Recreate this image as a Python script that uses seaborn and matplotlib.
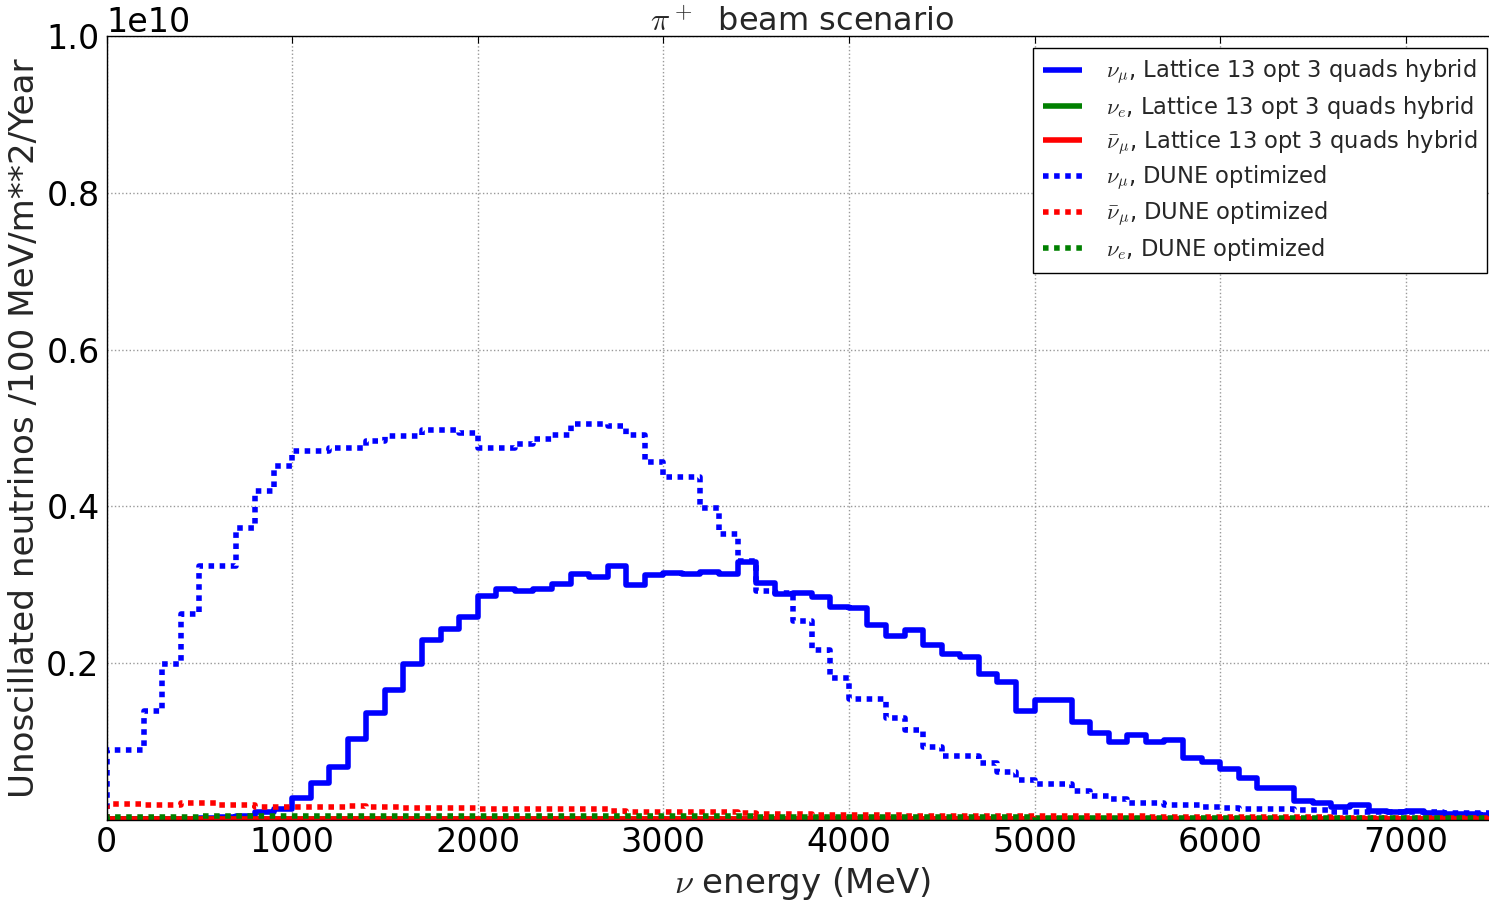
import numpy as np
import pandas as pd
import matplotlib
matplotlib.use("Agg")
import matplotlib.pyplot as plt
import seaborn as sns

# ---------------- data (units of 1e10 per 100 MeV bin) ----------------
SCALE = 1e10
bin_edges = np.arange(0, 7600, 100)  # 0 .. 7500 MeV, 75 bins of 100 MeV

lattice_numu = [
    0.0005, 0.0005, 0.0005, 0.0008, 0.001, 0.0015, 0.003, 0.005, 0.009, 0.014,
    0.028, 0.046, 0.067, 0.103, 0.136, 0.166, 0.198, 0.229, 0.243, 0.259,
    0.285, 0.294, 0.292, 0.294, 0.301, 0.314, 0.310, 0.324, 0.299, 0.312,
    0.315, 0.314, 0.316, 0.313, 0.329, 0.302, 0.288, 0.289, 0.284, 0.272,
    0.270, 0.248, 0.234, 0.242, 0.223, 0.212, 0.207, 0.186, 0.176, 0.139,
    0.153, 0.152, 0.125, 0.111, 0.099, 0.108, 0.099, 0.102, 0.078, 0.073,
    0.065, 0.053, 0.040, 0.040, 0.023, 0.021, 0.016, 0.018, 0.011, 0.010,
    0.011, 0.008, 0.007, 0.007, 0.006,
]
lattice_nue = [0.0008] * 30 + [0.0006] * 20 + [0.0004] * 25
lattice_numubar = [0.0004] * 75

dune_numu = [
    0.089, 0.089, 0.139, 0.198, 0.263, 0.324, 0.324, 0.372, 0.420, 0.451,
    0.470, 0.470, 0.475, 0.475, 0.483, 0.490, 0.490, 0.498, 0.498, 0.494,
    0.474, 0.474, 0.479, 0.486, 0.491, 0.505, 0.505, 0.503, 0.491, 0.457,
    0.437, 0.437, 0.398, 0.364, 0.330, 0.292, 0.289, 0.253, 0.216, 0.181,
    0.154, 0.154, 0.129, 0.114, 0.092, 0.081, 0.081, 0.072, 0.061, 0.051,
    0.045, 0.045, 0.036, 0.030, 0.026, 0.021, 0.021, 0.018, 0.018, 0.016,
    0.015, 0.014, 0.013, 0.013, 0.012, 0.012, 0.010, 0.010, 0.010, 0.010,
    0.009, 0.009, 0.008, 0.008, 0.008,
]
dune_numubar = [
    0.020, 0.020, 0.018, 0.018, 0.021, 0.021, 0.019, 0.019, 0.016, 0.016,
    0.016, 0.016, 0.016, 0.017, 0.016, 0.016, 0.015, 0.015, 0.015, 0.015,
    0.014, 0.014, 0.014, 0.014, 0.014, 0.014, 0.014, 0.011, 0.010, 0.010,
    0.010, 0.010, 0.010, 0.010, 0.008, 0.007, 0.007, 0.007, 0.006, 0.006,
    0.006, 0.006, 0.006, 0.005, 0.005, 0.005, 0.005, 0.005, 0.005, 0.004,
    0.004, 0.004, 0.004, 0.004, 0.004, 0.004, 0.003, 0.003, 0.003, 0.003,
    0.003, 0.003, 0.003, 0.003, 0.003, 0.003, 0.002, 0.002, 0.002, 0.002,
    0.002, 0.002, 0.002, 0.002, 0.002,
]
dune_nue = [0.0036] * 5 + [0.0048] * 10 + [0.0045] * 10 + [0.004] * 10 + [0.003] * 15 + [0.0025] * 25

series = [
    (lattice_numu, r"$\nu_\mu$, Lattice 13 opt 3 quads hybrid", "blue", "-"),
    (lattice_nue, r"$\nu_e$, Lattice 13 opt 3 quads hybrid", "green", "-"),
    (lattice_numubar, r"$\bar{\nu}_\mu$, Lattice 13 opt 3 quads hybrid", "red", "-"),
    (dune_numu, r"$\nu_\mu$, DUNE optimized", "blue", (0, (1, 1))),
    (dune_numubar, r"$\bar{\nu}_\mu$, DUNE optimized", "red", (0, (1, 1))),
    (dune_nue, r"$\nu_e$, DUNE optimized", "green", (0, (1, 1))),
]

x_ticks = [0, 1000, 2000, 3000, 4000, 5000, 6000, 7000]
y_ticks = [0.2, 0.4, 0.6, 0.8, 1.0]

# ---------------- style ----------------
sns.set_style("white")
plt.rcParams.update({
    "font.family": ["DejaVu Sans"],
    "mathtext.fontset": "cm",
    "xtick.direction": "in",
    "ytick.direction": "in",
    "xtick.top": True,
    "ytick.right": True,
    "xtick.major.size": 5,
    "ytick.major.size": 5,
    "xtick.major.width": 0.8,
    "ytick.major.width": 0.8,
    "xtick.major.pad": 5,
    "ytick.major.pad": 5,
    "axes.edgecolor": "black",
    "axes.linewidth": 1.0,
    "xtick.color": "black",
    "ytick.color": "black",
    "lines.solid_capstyle": "butt",
    "lines.dash_capstyle": "butt",
})

fig = plt.figure(figsize=(14.89, 9.01), dpi=100)
ax = fig.add_axes([106.5 / 1489, 81.5 / 901, 1392 / 1489, 783 / 901])

for vals, label, color, ls in series:
    v = np.asarray(vals) * SCALE
    xs = np.concatenate([[bin_edges[0]], bin_edges])
    ys = np.concatenate([[0.0], v, [v[-1]]])
    df = pd.DataFrame({"energy": xs, "flux": ys})
    sns.lineplot(data=df, x="energy", y="flux", estimator=None, sort=False,
                 drawstyle="steps-post", color=color, linestyle=ls,
                 linewidth=4, label=label, ax=ax)

ax.set_xlim(0, 7500)
ax.set_ylim(0, 1.0 * SCALE)
ax.set_xticks(x_ticks)
ax.set_yticks([t * SCALE for t in y_ticks])
ax.tick_params(axis="both", labelsize=24)
ax.yaxis.get_offset_text().set_fontsize(24)
ax.grid(True, color="#999999", linestyle=":", linewidth=1.0)

ax.set_xlabel(r"$\nu$ energy (MeV)", fontsize=24.5)
ax.set_ylabel("Unoscillated neutrinos /100 MeV/m**2/Year", fontsize=24.6)
ax.set_title(r"$\pi^+$  beam scenario", fontsize=23, pad=4)

leg = ax.legend(loc="upper right", fontsize=16.3, frameon=True, fancybox=False,
                edgecolor="black", framealpha=1, handlelength=1.7,
                handletextpad=1.05, borderpad=0.45, labelspacing=0.33)
leg.get_frame().set_linewidth(1.0)

fig.savefig("out.png", dpi=100)
